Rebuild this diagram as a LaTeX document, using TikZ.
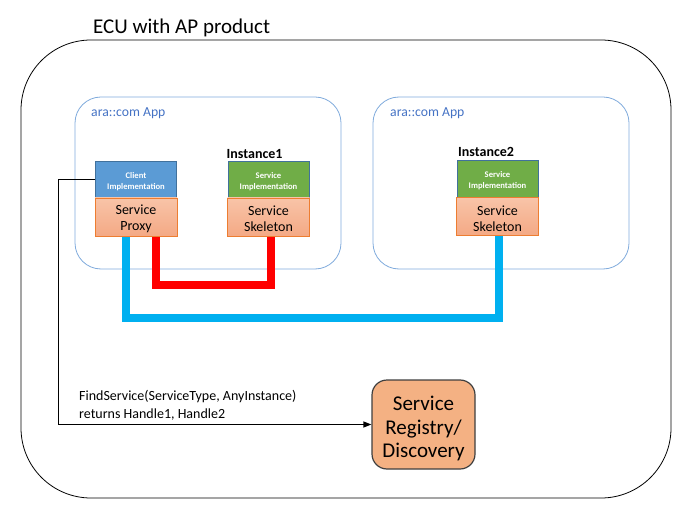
\documentclass[tikz,border=0pt]{standalone}
\usepackage{fontspec}
\setmainfont{Carlito}
\usetikzlibrary{arrows.meta}
\definecolor{appline}{HTML}{7FAADC}
\definecolor{apptext}{HTML}{4472C4}
\definecolor{clientfill}{HTML}{5B9BD5}
\definecolor{boxline}{HTML}{41719C}
\definecolor{implfill}{HTML}{70AD47}
\definecolor{salmontop}{HTML}{F8C4A8}
\definecolor{salmonbot}{HTML}{F4A985}
\definecolor{salmonline}{HTML}{ED7D31}
\definecolor{regfill}{HTML}{F4B183}
\definecolor{regline}{HTML}{3F3F3F}
\definecolor{redlink}{HTML}{FF0000}
\definecolor{bluelink}{HTML}{00B0F0}
\tikzset{
  ecubox/.style={draw=black, line width=0.8pt, rounded corners=70pt},
  appbox/.style={draw=appline, line width=0.8pt, rounded corners=26pt},
  apptitle/.style={text=apptext, font=\fontsize{13.7}{16}\selectfont, anchor=base west, inner sep=0pt},
  instlabel/.style={font=\bfseries\fontsize{14}{16}\selectfont, anchor=base west, inner sep=0pt},
  topbox/.style={draw=boxline, line width=0.8pt, minimum width=81pt, minimum height=37pt, inner sep=0pt},
  toptext/.style={yshift=-2pt, inner sep=0pt, align=center, text=white, font=\bfseries\fontsize{8.6}{11}\selectfont},
  clientbox/.style={topbox, fill=clientfill},
  implbox/.style={topbox, fill=implfill},
  skelbox/.style={draw=salmonline, line width=0.8pt, top color=salmontop, bottom color=salmonbot,
    minimum width=82pt, minimum height=38pt, inner sep=0pt},
  skeltext/.style={yshift=-1.8pt, inner sep=0pt, align=center, font=\fontsize{14}{16}\selectfont},
  regbox/.style={draw=regline, line width=1.2pt, fill=regfill, rounded corners=15pt,
    minimum width=103pt, minimum height=89pt, inner sep=0pt},
  regtext/.style={yshift=-4pt, inner sep=0pt, align=center, font=\fontsize{21}{23.5}\selectfont},
  redconn/.style={draw=redlink, line width=8pt},
  blueconn/.style={draw=bluelink, line width=8pt},
  callconn/.style={draw=black, line width=1.2pt, -{Triangle[length=8pt,width=6pt]}},
}
\begin{document}
\begin{tikzpicture}[x=1pt,y=-1pt]
\useasboundingbox (0,0) rectangle (684,518);
% outer ECU box
\draw[ecubox] (21,40) rectangle (671,498);
\node[anchor=base west, inner sep=0pt, font=\fontsize{21}{24}\selectfont] (title) at (93,34) {ECU with AP product};
% app boxes
\draw[appbox] (75,97) rectangle (341,269);
\draw[appbox] (373,97) rectangle (629,269);
\node[apptitle] (app1) at (91,116.5) {ara::com App};
\node[apptitle] (app2) at (390,116.5) {ara::com App};
% connectors (drawn before boxes)
\coordinate (proxyb) at (136,236);
\coordinate (skel1b) at (268.5,236);
\coordinate (skel2b) at (497.5,235.5);
\draw[blueconn] ([xshift=-10.5pt]proxyb) -- ++(0,82) -| ([xshift=1.5pt]skel2b);
\draw[redconn] ([xshift=20pt]proxyb) -- ++(0,49) -| ([xshift=2.5pt]skel1b);
% component boxes
\node[clientbox, label={[toptext]center:{Client\\Implementation}}] (client) at (136,179.5) {};
\node[skelbox, label={[skeltext]center:{Service\\Proxy}}] (proxy) at (136,217) {};
\node[implbox, label={[toptext]center:{Service\\Implementation}}] (impl1) at (268.5,179.5) {};
\node[skelbox, label={[skeltext]center:{Service\\Skeleton}}] (skel1) at (268.5,217) {};
\node[instlabel] (inst1) at (226.5,158.5) {Instance1};
\node[implbox, label={[toptext]center:{Service\\Implementation}}] (impl2) at (497.5,179) {};
\node[skelbox, label={[skeltext]center:{Service\\Skeleton}}] (skel2) at (497.5,216.5) {};
\node[instlabel] (inst2) at (458,156.5) {Instance2};
% registry
\node[regbox, label={[regtext]center:{Service\\Registry/\\Discovery}}] (reg) at (423.5,424.5) {};
\draw[callconn] (client.west) -- ++(-37,0) |- (reg.west);
\node[anchor=west, align=left, inner sep=0pt, font=\fontsize{14}{18}\selectfont] (call) at (79,405.5)
  {FindService(ServiceType, AnyInstance)\\returns Handle1, Handle2};
\end{tikzpicture}
\end{document}
